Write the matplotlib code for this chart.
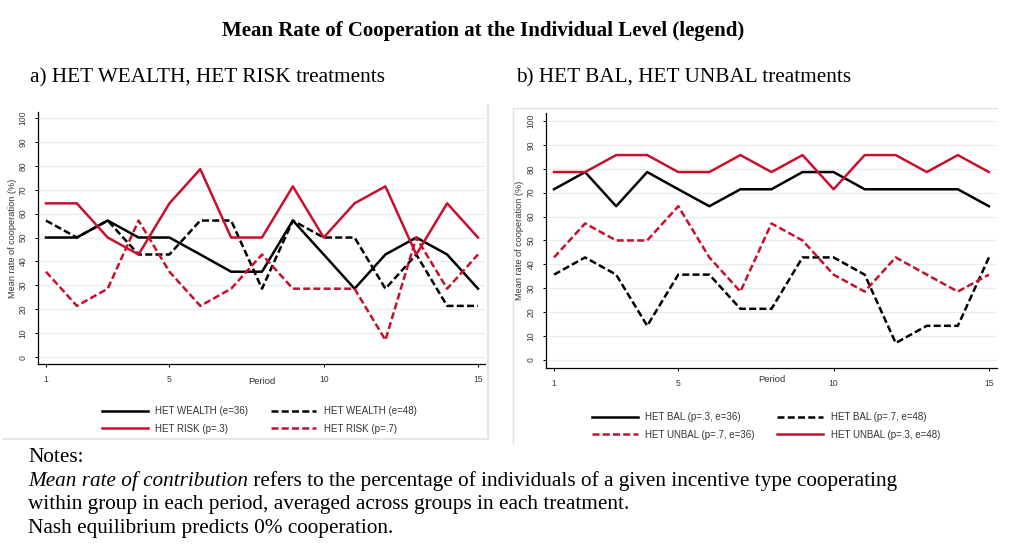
import numpy as np
import matplotlib
matplotlib.use("Agg")
import matplotlib.pyplot as plt
from matplotlib.lines import Line2D

# data (values are k/14 shares, in %)
periods = list(range(1, 16))

het_wealth_36 = [50, 50, 57.1, 50, 50, 42.9, 35.7, 35.7, 57.1, 42.9, 28.6, 42.9, 50, 42.9, 28.6]
het_wealth_48 = [57.1, 50, 57.1, 42.9, 42.9, 57.1, 57.1, 28.6, 57.1, 50, 50, 28.6, 42.9, 21.4, 21.4]
het_risk_3 = [64.3, 64.3, 50, 42.9, 64.3, 78.6, 50, 50, 71.4, 50, 64.3, 71.4, 42.9, 64.3, 50]
het_risk_7 = [35.7, 21.4, 28.6, 57.1, 35.7, 21.4, 28.6, 42.9, 28.6, 28.6, 28.6, 7.1, 50, 28.6, 42.9]

het_bal_36 = [71.4, 78.6, 64.3, 78.6, 71.4, 64.3, 71.4, 71.4, 78.6, 78.6, 71.4, 71.4, 71.4, 71.4, 64.3]
het_bal_48 = [35.7, 42.9, 35.7, 14.3, 35.7, 35.7, 21.4, 21.4, 42.9, 42.9, 35.7, 7.1, 14.3, 14.3, 42.9]
het_unbal_36 = [42.9, 57.1, 50, 50, 64.3, 42.9, 28.6, 57.1, 50, 35.7, 28.6, 42.9, 35.7, 28.6, 35.7]
het_unbal_48 = [78.6, 78.6, 85.7, 85.7, 78.6, 78.6, 85.7, 78.6, 85.7, 71.4, 85.7, 85.7, 78.6, 85.7, 78.6]

x_ticks = [1, 5, 10, 15]
y_ticks = list(range(0, 101, 10))

W, H = 1024, 548
red = "#c8102e"
dash = (2.8, 1.3)
sans = "Liberation Sans"
serif = "Liberation Serif"

fig = plt.figure(figsize=(W / 100, H / 100), dpi=100)


def rect(x0, y0, x1, y1):
    # pixel box (top-left origin) -> figure fraction
    return [x0 / W, 1 - y1 / H, (x1 - x0) / W, (y1 - y0) / H]


def px(x, y):
    return x / W, 1 - y / H


# light panel frames
fig.add_artist(Line2D([488 / W, 488 / W], [1 - 105 / H, 1 - 439 / H], color="#e2e2e2", lw=1.2))
fig.add_artist(Line2D([3 / W, 488 / W], [1 - 439 / H, 1 - 439 / H], color="#e2e2e2", lw=1.2))
fig.add_artist(Line2D([513 / W, 513 / W], [1 - 108 / H, 1 - 443 / H], color="#e2e2e2", lw=1.0))
fig.add_artist(Line2D([513 / W, 997 / W], [1 - 108 / H, 1 - 108 / H], color="#e2e2e2", lw=1.0))


def setup(ax, xlim, ylim, period_y):
    ax.set_xlim(*xlim)
    ax.set_ylim(*ylim)
    for s in ["top", "right"]:
        ax.spines[s].set_visible(False)
    for s in ["left", "bottom"]:
        ax.spines[s].set_linewidth(0.9)
    ax.set_xticks(x_ticks)
    ax.set_yticks(y_ticks)
    ax.tick_params(axis="y", length=2.5, width=0.7, pad=5, labelsize=6.2, labelcolor="#3a3a3a", labelrotation=90)
    ax.tick_params(axis="x", length=2.5, width=0.7, pad=5.5, labelsize=6.2, labelcolor="#3a3a3a")
    for lab in ax.get_yticklabels():
        lab.set_fontfamily(sans)
        lab.set_va("center")
    for lab in ax.get_xticklabels():
        lab.set_fontfamily(sans)
    ax.grid(axis="y", color="#e6eeee", lw=0.9)
    ax.set_axisbelow(True)
    ax.text(-0.058, 0.5, "Mean rate of cooperation (%)", transform=ax.transAxes, rotation=90,
            ha="center", va="center", fontsize=6.6, family=sans, color="#333333")
    ax.text(0.5, period_y, "Period", transform=ax.transAxes, ha="center", va="center",
            fontsize=6.8, family=sans, color="#333333")


# panel a
ax1 = fig.add_axes(rect(38, 112, 485, 364))
setup(ax1, (0.741, 15.227), (-2.9, 102.5), -0.068)
l1, = ax1.plot(periods, het_wealth_36, color="black", lw=1.8)
l2, = ax1.plot(periods, het_wealth_48, color="black", lw=1.8, dashes=dash)
l3, = ax1.plot(periods, het_risk_3, color=red, lw=1.8)
l4, = ax1.plot(periods, het_risk_7, color=red, lw=1.8, dashes=dash)
leg1 = ax1.legend([l1, l3, l2, l4],
                  ["HET WEALTH (e=36)", "HET RISK (p=.3)", "HET WEALTH (e=48)", "HET RISK (p=.7)"],
                  ncol=2, loc="center left", bbox_to_anchor=px(97, 420), bbox_transform=fig.transFigure,
                  frameon=False, prop={"family": sans, "size": 7}, handlelength=4.7,
                  handletextpad=0.8, columnspacing=2.3, labelspacing=0.75, borderpad=0)
for t in leg1.get_texts():
    t.set_color("#333333")

# panel b
ax2 = fig.add_axes(rect(546, 113, 997, 368))
setup(ax2, (0.742, 15.26), (-3.35, 103.3), -0.045)
m1, = ax2.plot(periods, het_bal_36, color="black", lw=1.8)
m2, = ax2.plot(periods, het_bal_48, color="black", lw=1.8, dashes=dash)
m3, = ax2.plot(periods, het_unbal_36, color=red, lw=1.8, dashes=dash)
m4, = ax2.plot(periods, het_unbal_48, color=red, lw=1.8)
leg2 = ax2.legend([m1, m3, m2, m4],
                  ["HET BAL (p=.3, e=36)", "HET UNBAL (p=.7, e=36)", "HET BAL (p=.7, e=48)", "HET UNBAL (p=.3, e=48)"],
                  ncol=2, loc="center left", bbox_to_anchor=px(587, 426), bbox_transform=fig.transFigure,
                  frameon=False, prop={"family": sans, "size": 7}, handlelength=4.7,
                  handletextpad=0.8, columnspacing=2.3, labelspacing=0.75, borderpad=0)
for t in leg2.get_texts():
    t.set_color("#333333")

# titles
fig.text(*px(483, 31), "Mean Rate of Cooperation at the Individual Level (legend)", ha="center", va="center",
         fontsize=15, fontweight="bold", family=serif)
fig.text(*px(30, 78), "a) HET WEALTH, HET RISK treatments", ha="left", va="center", fontsize=15.3, family=serif)
fig.text(*px(516, 78), "b) HET BAL, HET UNBAL treatments", ha="left", va="center", fontsize=15.3, family=serif)

# notes
nsize = 15.3
fig.text(*px(28, 458), "Notes:", ha="left", va="center", fontsize=nsize, family=serif)
it = fig.text(*px(28, 481), "Mean rate of contribution", ha="left", va="center", fontsize=nsize,
              family=serif, style="italic")
fig.canvas.draw()
bb = it.get_window_extent()
fig.text(bb.x1 / W, 1 - 481 / H, " refers to the percentage of individuals of a given incentive type cooperating",
         ha="left", va="center", fontsize=nsize, family=serif)
fig.text(*px(28, 504), "within group in each period, averaged across groups in each treatment.", ha="left",
         va="center", fontsize=nsize, family=serif)
fig.text(*px(28, 528), "Nash equilibrium predicts 0% cooperation.", ha="left", va="center", fontsize=nsize,
         family=serif)

fig.savefig("out.png", dpi=100)
